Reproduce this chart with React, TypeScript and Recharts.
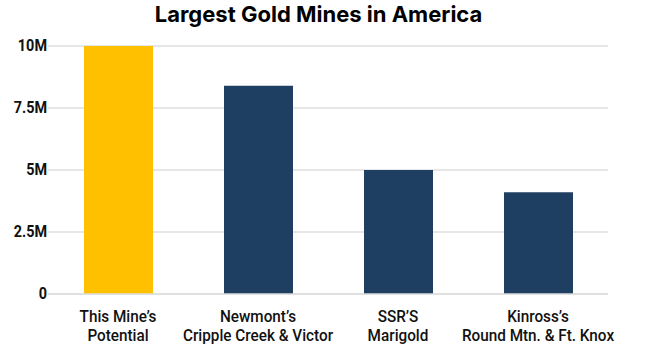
import React from 'react';
import { BarChart, Bar, XAxis, YAxis, CartesianGrid, Cell } from 'recharts';

const mines = ["This Mine's|Potential", "Newmont's|Cripple Creek & Victor", "SSR'S|Marigold", "Kinross's|Round Mtn. & Ft. Knox"];
const ounces = [10000000, 8400000, 5000000, 4100000];
const barColors = ['#FFC000', '#1F3F62', '#1F3F62', '#1F3F62'];
const yTicks = [0, 2500000, 5000000, 7500000, 10000000];
const yTickLabels = ['0', '2.5M', '5M', '7.5M', '10M'];

const data = mines.map((m, i) => ({ name: m, value: ounces[i] }));

const MineTick = (props: any) => {
  const { x, y, payload } = props;
  const lines = String(payload.value).replace(/'/g, '\u2019').split('|');
  return (
    <g transform={`translate(${x},${y}) scale(0.9,1)`}>
      <text x={0} y={0} textAnchor="middle" fill="#111" fontFamily="Roboto, sans-serif" fontSize={17} fontWeight={500}>
        {lines.map((l, i) => (
          <tspan key={i} x={0} dy={i === 0 ? 20 : 19}>{l}</tspan>
        ))}
      </text>
    </g>
  );
};

const ValueTick = (props: any) => {
  const { x, y, payload } = props;
  return (
    <g transform={`translate(${x},${y}) scale(0.9,1)`}>
      <text x={0} y={0} dy={5} textAnchor="end" fill="#111" fontFamily="Roboto, sans-serif" fontSize={16} fontWeight={700}>
        {yTickLabels[yTicks.indexOf(payload.value)]}
      </text>
    </g>
  );
};

const App = () => {
  return (
    <div style={{ position: 'relative', width: 647, height: 355, background: '#fff' }}>
      <style>{'body{margin:0}'}</style>
      <div style={{ position: 'absolute', top: 1, left: 0, width: 637, textAlign: 'center', fontFamily: 'Inter, sans-serif', fontWeight: 700, fontSize: 22, color: '#000', lineHeight: '26px' }}>
        Largest Gold Mines in America
      </div>
      <BarChart width={647} height={355} data={data} margin={{ top: 46, right: 39, left: 0, bottom: 11 }}>
        <CartesianGrid vertical={false} stroke="#dedede" strokeWidth={1.5} />
        <XAxis dataKey="name" tick={<MineTick />} tickLine={false} axisLine={{ stroke: '#dedede', strokeWidth: 1.5 }} interval={0} height={50} />
        <YAxis domain={[0, 10000000]} ticks={yTicks} width={48} tickLine={false} axisLine={false} tickSize={0} tickMargin={1} tick={<ValueTick />} />
        <Bar dataKey="value" barSize={69} isAnimationActive={false}>
          {data.map((d, i) => <Cell key={i} fill={barColors[i]} />)}
        </Bar>
      </BarChart>
    </div>
  );
};

export default App;
